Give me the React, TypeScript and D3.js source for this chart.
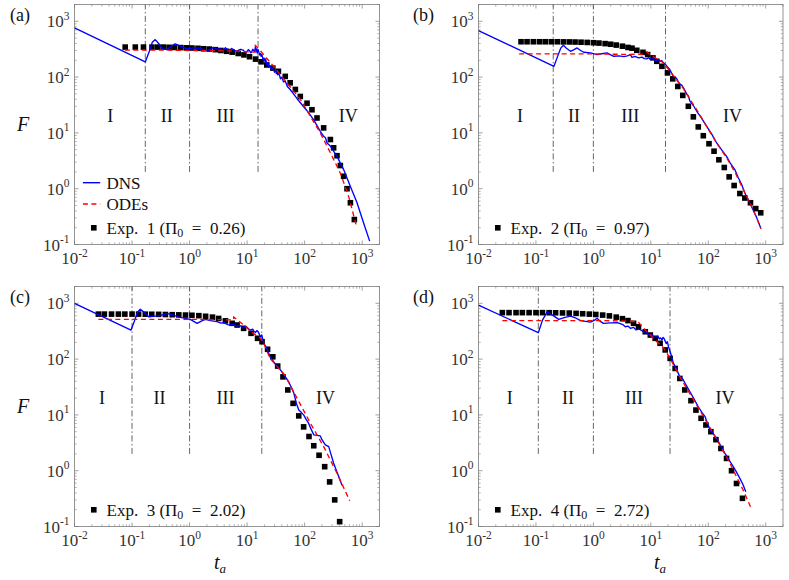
import React from 'react';
import * as d3 from 'd3';

type P = [number, number];

// ---------- axis ticks ----------
const xTicks = [1e-2, 1e-1, 1e0, 1e1, 1e2, 1e3];
const xTickExp = ['-2', '-1', '0', '1', '2', '3'];
const yTicks = [1e-1, 1e0, 1e1, 1e2, 1e3];
const yTickExp = ['-1', '0', '1', '2', '3'];
const romans = ['I', 'II', 'III', 'IV'];
const panelIds = ['(a)', '(b)', '(c)', '(d)'];
const expNames = ['Exp. 1', 'Exp. 2', 'Exp. 3', 'Exp. 4'];
const pi0 = ['0.26', '0.97', '2.02', '2.72'];

// ---------- panel (a) ----------
const dnsA: P[] = [[0.01,760],[0.17,187],[0.2,290],[0.225,420],[0.253,470],[0.29,400],[0.34,320],[0.404,311],[0.47,350],[0.56,394],[0.7,360],[0.9,320],[1.2,335],[1.5,330],[1.8,310],[2.1,302],[2.6,340],[3.0,318],[3.4,320],[3.8,300],[4.2,335],[4.6,310],[5.0,305],[5.4,325],[5.8,311],[6.4,290],[7,300],[7.7,315],[8.5,305],[9.2,280],[10,290],[10.5,310],[11,300],[11.5,275],[12,280],[12.5,315],[13,300],[13.5,290],[14,350],[14.3,290],[14.6,320],[15,270],[15.5,310],[16,280],[16.5,250],[17,265],[17.5,235],[18,255],[19,205],[19.7,220],[20.5,190],[21,212],[22,170],[23,180],[24,150],[25,160],[26.5,138],[28,145],[30,122],[32,130],[34,110],[36,115],[38,93],[40,100],[43,82],[46,85],[50,68],[56,60],[63,51],[74,41],[90,32],[110,25],[143,17.3],[187,10.7],[214,8.7],[230,8.2],[245,6.6],[280,5.8],[365,3.8],[476,2.2],[624,1.1],[814,0.56],[1062,0.24],[1350,0.115]];
const odeA: P[] = [[0.075,305],[0.3,305],[1,300],[5,295],[10,285],[13.9,280],[13.95,367],[16,320],[19.4,252],[29,155],[49,79],[84,40],[126,19.8],[187,10],[280,4.4],[417,1.9],[582,0.73],[780,0.23]];
const expA: P[] = [[0.076,345],[0.114,345],[0.158,345],[0.222,345],[0.28,345],[0.35,345],[0.44,342],[0.55,340],[0.7,338],[0.88,335],[1.1,332],[1.4,328],[1.75,322],[2.2,318],[2.8,310],[3.5,300],[4.4,290],[5.5,280],[7,265],[8.8,250],[11,232],[14,210],[17.5,188],[22,165],[28,145],[35,127],[46,103],[56,79],[69,60],[84,45],[110,34],[134,26],[164,18.5],[214,12.3],[280,7.6],[319,5.4],[365,3.9],[417,2.6],[476,1.67],[545,1.0],[624,0.56],[731,0.28]];
const vlineA = [0.17, 1, 15.5];
const regionA = [0.042, 0.4, 4.2, 575];

// ---------- panel (b) ----------
const dnsB: P[] = [[0.01,681],[0.206,156],[0.24,240],[0.27,330],[0.3,372],[0.34,330],[0.4,290],[0.46,310],[0.52,333],[0.6,300],[0.68,279],[0.89,272],[1.16,253],[1.4,262],[1.73,272],[2.0,250],[2.26,236],[2.8,240],[3.4,233],[3.9,240],[4.4,253],[4.7,225],[5.3,235],[6.1,221],[7,228],[7.7,215],[8.5,212],[9.2,222],[9.8,206],[10.4,218],[11,215],[11.8,200],[12.5,195],[13.5,205],[14.5,192],[15.5,198],[16.6,180],[17.8,172],[19,156],[21,140],[23,118],[24.8,103],[28,95],[30,82],[32,75],[34.5,72],[37,64],[42,50],[45,46],[48,37],[55,31],[63,24.4],[75,19],[85,15.5],[94,13.1],[115,9.5],[140,6.6],[170,5],[208,3.8],[240,2.9],[290,2.2],[330,1.6],[380,1.2],[433,0.84],[500,0.62],[602,0.42],[700,0.3],[819,0.198]];
const odeB: P[] = [[0.051,260],[1,260],[4,255],[7.5,258],[8.5,285],[10,245],[13,210],[16,185],[19,150],[25,105],[37,62],[48,40],[63,26],[94,13],[140,6.6],[208,3.6],[290,2.0],[433,0.85],[602,0.43],[830,0.19]];
const expB: P[] = [[0.055,430],[0.07,430],[0.09,430],[0.115,430],[0.145,430],[0.185,430],[0.235,430],[0.3,428],[0.38,427],[0.48,425],[0.61,422],[0.78,418],[1.0,413],[1.25,407],[1.6,398],[2.0,388],[2.5,375],[3.2,358],[4.0,340],[4.7,330],[5.7,302],[7.3,278],[8.8,253],[10.9,221],[12.7,192],[15.6,156],[19.5,119],[24.1,93],[29.5,68],[36,47],[45,30],[55,19.4],[67,12.8],[82,8.9],[103,6.4],[126,4.7],[153,3.3],[190,2.4],[231,1.63],[282,1.14],[355,0.82],[433,0.68],[543,0.56],[671,0.44],[819,0.37]];
const vlineB = [0.2, 1, 18];
const regionB = [0.053, 0.46, 4.4, 265];

// ---------- panel (c) ----------
const dnsC: P[] = [[0.01,1000],[0.096,332],[0.11,480],[0.125,700],[0.139,780],[0.165,680],[0.194,575],[0.25,590],[0.31,600],[0.404,660],[0.5,620],[0.69,561],[1.03,516],[1.2,470],[1.35,438],[1.6,480],[1.87,516],[2.3,490],[3.0,468],[3.5,440],[4,450],[4.6,415],[5.1,408],[5.8,420],[6.5,390],[7.5,400],[8.5,365],[9.2,385],[10,372],[10.7,345],[11.4,332],[12.5,345],[13.2,315],[14,300],[14.8,325],[15.5,310],[16.3,280],[17,252],[18,270],[19.4,192],[21,170],[23,140],[25,110],[27,100],[30,85],[34,72],[38,64],[45,50],[53,39],[58,32],[65,24.4],[72,16],[79,12.2],[88,11],[96,10],[105,8.5],[117,7.1],[130,5.5],[144,4.4],[165,4.3],[187,4.2],[200,3.6],[229,2.9],[262,2.7],[290,1.9],[319,1.36],[380,0.85],[447,0.55]];
const odeC: P[] = [[0.026,516],[1,516],[3,510],[5.8,505],[5.85,565],[8.7,410],[12,305],[17,236],[20,180],[25,103],[45,52],[74,19.8],[126,7.1],[214,2.7],[365,0.9],[607,0.29]];
const expC: P[] = [[0.026,640],[0.033,640],[0.044,640],[0.058,640],[0.075,640],[0.1,640],[0.13,640],[0.17,638],[0.22,636],[0.29,634],[0.38,630],[0.5,625],[0.65,620],[0.85,615],[1.1,610],[1.45,600],[1.9,585],[2.5,565],[3.2,535],[4.2,485],[5.5,438],[6.7,408],[8.7,356],[11.7,290],[15.2,236],[18.2,205],[22.7,150],[28,110],[34,75],[42,48],[51,28],[63,16.1],[79,9.6],[96,6.1],[119,4.1],[144,2.8],[178,1.89],[223,1.18],[272,0.63],[333,0.30],[406,0.122]];
const vlineC = [0.1, 1, 18];
const regionC = [0.03, 0.3, 4.2, 230];

// ---------- panel (d) ----------
const dnsD: P[] = [[0.01,930],[0.11,297],[0.13,500],[0.158,707],[0.2,600],[0.25,516],[0.32,560],[0.4,591],[0.5,540],[0.6,490],[0.89,460],[1.05,500],[1.16,538],[1.3,480],[1.5,438],[2.0,445],[2.6,450],[3.2,420],[3.6,380],[4.0,390],[4.4,356],[5,370],[5.5,335],[6.3,345],[7.5,309],[8.5,300],[9.5,270],[10.3,280],[11.1,252],[12.5,245],[13.3,260],[14,230],[14.8,240],[15.6,220],[16.3,245],[17,235],[17.8,210],[18.5,190],[19.4,205],[20.3,167],[22,130],[24.8,84],[28,66],[32,48],[36,44],[40,36],[48,26],[57,19],[67,14],[78,11],[88,9.3],[95,7.5],[107,5.4],[122,4.6],[140,3.8],[165,2.8],[195,2.05],[220,1.7],[254,1.32],[300,1.0],[355,0.73],[400,0.57],[450,0.42]];
const odeD: P[] = [[0.026,490],[1,490],[3,485],[5.5,470],[6.1,455],[8,333],[9.8,270],[13,200],[16.6,160],[21.7,103],[32,48],[63,15],[122,4.7],[238,1.36],[404,0.45],[543,0.226]];
const expD: P[] = [[0.026,680],[0.034,680],[0.045,680],[0.058,680],[0.076,680],[0.1,680],[0.13,680],[0.17,678],[0.22,676],[0.29,672],[0.38,668],[0.5,660],[0.65,650],[0.85,640],[1.1,630],[1.45,615],[1.9,595],[2.5,565],[3.2,530],[4.0,490],[5.0,438],[6.1,380],[8.0,309],[9.8,270],[11.9,236],[14.5,192],[17.8,146],[21.7,103],[26.5,68],[32,45],[39,28],[50,18],[61,12.2],[75,8.7],[91,6.6],[111,5.0],[136,3.6],[166,2.5],[208,1.66],[254,1.0],[310,0.59],[394,0.32]];
const vlineD = [0.11, 1, 21.6];
const regionD = [0.035, 0.36, 5.1, 195];

const dnsAll = [dnsA, dnsB, dnsC, dnsD];
const odeAll = [odeA, odeB, odeC, odeD];
const expAll = [expA, expB, expC, expD];
const vlineAll = [vlineA, vlineB, vlineC, vlineD];
const regionAll = [regionA, regionB, regionC, regionD];

// ---------- layout ----------
const COLS: [number, number][] = [[74.5, 379.5], [478.5, 783]];
const ROWS: [number, number][] = [[4.5, 244.5], [286.5, 526.5]];
const SERIF = "'Liberation Serif', 'DejaVu Serif', serif";
const AX = '#7a7a7a';
const TXT = '#333333';

function minorVals(lo: number, hi: number, max: number) {
  const out: number[] = [];
  for (let d = lo; d <= hi; d++) {
    for (let k = 2; k <= 9; k++) {
      const v = k * Math.pow(10, d);
      if (v <= max) out.push(v);
    }
  }
  return out;
}

function Panel({ i }: { i: number }) {
  const col = i % 2;
  const row = Math.floor(i / 2);
  const [x0, x1] = COLS[col];
  const [yt, yb] = ROWS[row];
  const x = d3.scaleLog().domain([0.01, 2000]).range([x0, x1]);
  const y = d3.scaleLog().domain([0.1, 2000]).range([yb, yt]);
  const line = d3.line<P>().x(d => x(d[0])).y(d => y(d[1]));
  const xMinor = minorVals(-2, 3, 2000);
  const yMinor = minorVals(-1, 3, 2000);
  const clipId = `clip${i}`;
  const legY = yb - 16.7;
  return (
    <g>
      <defs>
        <clipPath id={clipId}>
          <rect x={x0} y={yt} width={x1 - x0} height={yb - yt} />
        </clipPath>
      </defs>
      {xTicks.map((t, k) => (
        <g key={'xt' + k}>
          <line x1={x(t)} x2={x(t)} y1={yb} y2={yb - 4} stroke={AX} strokeWidth={0.7} />
          <line x1={x(t)} x2={x(t)} y1={yt} y2={yt + 4} stroke={AX} strokeWidth={0.7} />
        </g>
      ))}
      {xMinor.map((t, k) => (
        <g key={'xm' + k}>
          <line x1={x(t)} x2={x(t)} y1={yb} y2={yb - 2.2} stroke={AX} strokeWidth={0.6} />
          <line x1={x(t)} x2={x(t)} y1={yt} y2={yt + 2.2} stroke={AX} strokeWidth={0.6} />
        </g>
      ))}
      {yTicks.map((t, k) => (
        <g key={'yt' + k}>
          <line x1={x0} x2={x0 + 4} y1={y(t)} y2={y(t)} stroke={AX} strokeWidth={0.7} />
          <line x1={x1} x2={x1 - 4} y1={y(t)} y2={y(t)} stroke={AX} strokeWidth={0.7} />
        </g>
      ))}
      {yMinor.map((t, k) => (
        <g key={'ym' + k}>
          <line x1={x0} x2={x0 + 2.2} y1={y(t)} y2={y(t)} stroke={AX} strokeWidth={0.6} />
          <line x1={x1} x2={x1 - 2.2} y1={y(t)} y2={y(t)} stroke={AX} strokeWidth={0.6} />
        </g>
      ))}
      <rect x={x0} y={yt} width={x1 - x0} height={yb - yt} fill="none" stroke={AX} strokeWidth={0.8} />
      {xTicks.map((t, k) => (
        <text key={'xl' + k} x={x(t)} y={yb + 19.5} textAnchor="middle" fontFamily={SERIF} fontSize={17} fill={TXT}>
          <tspan>10</tspan>
          <tspan fontSize={11.5} dy={-7.5}>{xTickExp[k]}</tspan>
        </text>
      ))}
      {yTicks.map((t, k) => (
        <text key={'yl' + k} x={x0 - 5} y={y(t) + 6} textAnchor="end" fontFamily={SERIF} fontSize={17} fill={TXT}>
          <tspan>10</tspan>
          <tspan fontSize={11.5} dy={-7.5}>{yTickExp[k]}</tspan>
        </text>
      ))}
      {vlineAll[i].map((t, k) => (
        <line key={'vl' + k} x1={x(t)} x2={x(t)} y1={y(2)} y2={yt} stroke="#555" strokeWidth={0.9} strokeDasharray="6,2.5,1.5,2.5" />
      ))}
      {regionAll[i].map((t, k) => (
        <text key={'rg' + k} x={x(t)} y={y(20) + 6} textAnchor="middle" fontFamily={SERIF} fontSize={18} fill="#111">{romans[k]}</text>
      ))}
      <g clipPath={`url(#${clipId})`}>
        {expAll[i].map((d, k) => (
          <rect key={'e' + k} x={x(d[0]) - 2.8} y={y(d[1]) - 2.8} width={5.6} height={5.6} fill="#000" />
        ))}
        <path d={line(dnsAll[i]) || ''} fill="none" stroke="#0000ff" strokeWidth={1.35} strokeLinejoin="round" />
        <path d={line(odeAll[i]) || ''} fill="none" stroke="#ff0000" strokeWidth={1.35} strokeDasharray="5,3.5" />
      </g>
      {i === 0 && (
        <g>
          <line x1={x0 + 8.4} x2={x0 + 25.7} y1={yb - 61.8} y2={yb - 61.8} stroke="#0000ff" strokeWidth={1.4} />
          <text x={x0 + 32} y={yb - 61.8 + 6} fontFamily={SERIF} fontSize={17} fill="#111">DNS</text>
          <line x1={x0 + 8.4} x2={x0 + 25.7} y1={yb - 40.5} y2={yb - 40.5} stroke="#ff0000" strokeWidth={1.4} strokeDasharray="5,3.5" />
          <text x={x0 + 32} y={yb - 40.5 + 6} fontFamily={SERIF} fontSize={17} fill="#111">ODEs</text>
        </g>
      )}
      <rect x={x0 + 19.3 - 2.8} y={legY - 2.8} width={5.6} height={5.6} fill="#000" />
      <text x={x0 + 32} y={legY + 6} fontFamily={SERIF} fontSize={17} fill="#111" style={{ whiteSpace: 'pre' }}>
        <tspan>{expNames[i].replace(' ', '  ') + ' ('}</tspan>
        <tspan>Π</tspan>
        <tspan fontSize={12} dy={3.5}>0</tspan>
        <tspan dy={-3.5}>{'  =  ' + pi0[i] + ')'}</tspan>
      </text>
      <text x={col === 0 ? 10 : 413} y={yt + 16} fontFamily={SERIF} fontSize={18} fill="#111">{panelIds[i]}</text>
      {col === 0 && (
        <text x={17} y={yt + 126} fontFamily={SERIF} fontStyle="italic" fontSize={20} fill="#111">F</text>
      )}
      {row === 1 && (
        <text x={col === 0 ? 214 : 654} y={569} fontFamily={SERIF} fontStyle="italic" fontSize={20} fill="#111">
          <tspan>t</tspan>
          <tspan fontSize={13} dy={4}>a</tspan>
        </text>
      )}
    </g>
  );
}

export default function App() {
  return (
    <div style={{ position: 'absolute', left: 0, top: 0, width: 789, height: 580, background: '#fff' }}>
      <svg width={789} height={580} viewBox="0 0 789 580">
        <rect x={0} y={0} width={789} height={580} fill="#fff" />
        {[0, 1, 2, 3].map(i => <Panel key={i} i={i} />)}
      </svg>
    </div>
  );
}
